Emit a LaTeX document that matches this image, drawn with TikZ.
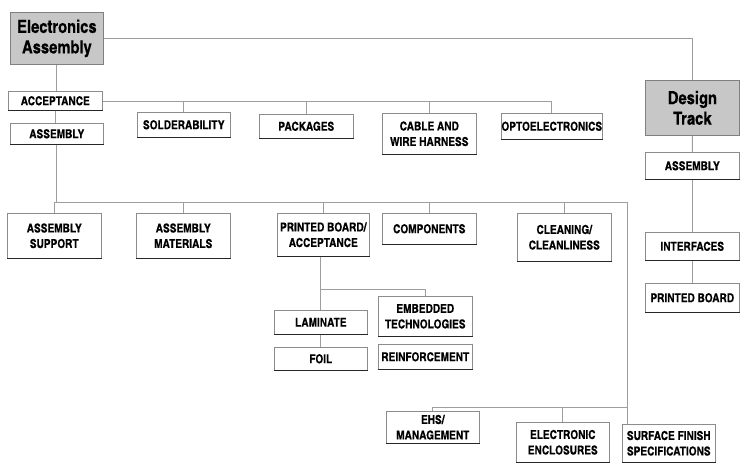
\documentclass[tikz,border=0pt]{standalone}
\usepackage{fontspec}
\newfontfamily\cnfont{texgyreheroscn-bold.otf}[FakeBold=0.4]
\begin{document}
\begin{tikzpicture}[x=1pt,y=-1pt,
  conn/.style={draw=black!38,line width=0.9pt},
  box/.style={draw=black!45,line width=0.6pt,fill=white,anchor=north west,inner sep=0pt,align=center,
    font=\cnfont\fontsize{12.3}{15.5}\selectfont,
    append after command={(\tikzlastnode.south west) edge[black!85,line width=1.6pt] (\tikzlastnode.south east)}},
  title/.style={draw=black!50,line width=0.8pt,fill=black!22,anchor=north west,inner sep=0pt,align=center,
    font=\cnfont\fontsize{18}{20.5}\selectfont}]
\useasboundingbox (0,0) rectangle (752,473);
\newcommand{\bx}[6][box]{\node[#1,minimum width={#4pt-#2pt},minimum height={#5pt-#3pt}] (#6) at (#2,#3)}
% titles
\bx[title]{10}{12}{103}{64}{ea} {Electronics\\Assembly};
\bx[title]{645}{80}{739}{135}{dt} {Design\\Track};
% design track column
\bx{645}{152}{739}{179}{dta} {ASSEMBLY};
\bx{645}{232}{739}{260}{dti} {INTERFACES};
\bx{645}{283}{739}{312}{dtp} {PRINTED BOARD};
% first rows
\bx{8}{91}{102}{110}{acc} {ACCEPTANCE};
\bx{10}{123}{103}{144}{asm} {ASSEMBLY};
\bx{137}{112}{230}{137}{sol} {SOLDERABILITY};
\bx{259}{114}{353}{138}{pkg} {PACKAGES};
\bx{382}{113}{476}{154}{cab} {CABLE AND\\WIRE HARNESS};
\bx{501}{113}{602}{139}{opt} {OPTOELECTRONICS};
% second row
\bx{7}{213}{101}{258}{asup} {ASSEMBLY\\SUPPORT};
\bx{136}{213}{230}{258}{amat} {ASSEMBLY\\MATERIALS};
\bx{277}{213}{369}{256}{pba} {PRINTED BOARD/\\ACCEPTANCE};
\bx{382}{213}{476}{244}{comp} {COMPONENTS};
\bx{517}{213}{611}{261}{cln} {CLEANING/\\CLEANLINESS};
% printed board sub
\bx{274}{310}{367}{334}{lam} {LAMINATE};
\bx{274}{347}{367}{370}{foil} {FOIL};
\bx{378}{296}{472}{336}{emb} {EMBEDDED\\TECHNOLOGIES};
\bx{378}{344}{472}{369}{rein} {REINFORCEMENT};
% bottom
\bx{386}{411}{479}{443}{ehs} {EHS/\\MANAGEMENT};
\bx{516}{422}{609}{462}{enc} {ELECTRONIC\\ENCLOSURES};
\bx{622}{424}{715}{462}{sfs} {SURFACE FINISH\\SPECIFICATIONS};
% coordinates
\coordinate (ya) at (0,101);
\coordinate (yb) at (0,202);
\coordinate (jr) at (627,202);
\coordinate (yc) at (0,289);
\coordinate (yd) at (0,407);
% connectors
\draw[conn] (ea.east) -| (dt.north);
\draw[conn] (dt.south) -- (dta.north);
\draw[conn] (dta.south) -- (dti.north);
\draw[conn] (dti.south) -- (dtp.north);
\draw[conn] (ea.south) -- (ea.south |- acc.north);
\draw[conn] (acc.east |- ya) -- (opt.north |- ya) -- (opt.north);
\draw[conn] (sol.north) -- (sol.north |- ya);
\draw[conn] (pkg.north) -- (pkg.north |- ya);
\draw[conn] (cab.north) -- (cab.north |- ya);
\draw[conn] (acc.south) -- (acc.south |- asm.north);
\draw[conn] (asm.south) -- (asm.south |- yb);
\draw[conn] (asup.north |- yb) -- (jr) -- (jr |- sfs.north);
\draw[conn] (asup.north) -- (asup.north |- yb);
\draw[conn] (amat.north) -- (amat.north |- yb);
\draw[conn] (pba.north) -- (pba.north |- yb);
\draw[conn] (comp.north) -- (comp.north |- yb);
\draw[conn] (cln.north) -- (cln.north |- yb);
\draw[conn] (lam.north |- pba.south) -- (lam.north);
\draw[conn] (lam.north |- yc) -| (emb.north);
\draw[conn] (lam.south) -- (foil.north);
\draw[conn] (ehs.north) |- (jr |- yd);
\draw[conn] (enc.north) -- (enc.north |- yd);
\end{tikzpicture}
\end{document}
